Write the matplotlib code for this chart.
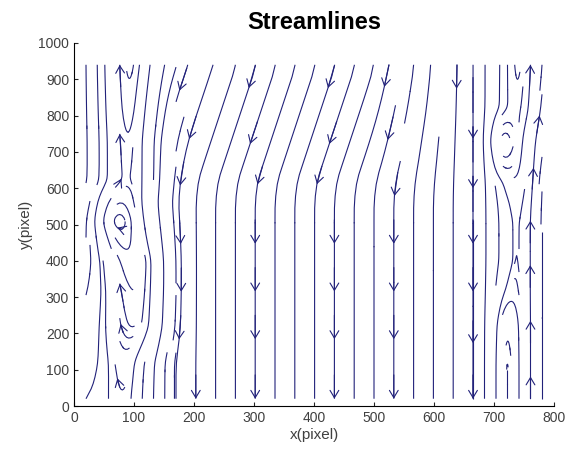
import numpy as np
import matplotlib
matplotlib.use("Agg")
import matplotlib.pyplot as plt
from matplotlib.patches import FancyArrowPatch

# ---- data: stream-function values (coarse grid) ----
x_nodes = [20, 45, 70, 95, 120, 150, 200, 300, 400, 500, 600, 650, 690, 715, 740, 760, 780]
y_nodes = [20, 120, 220, 320, 400, 460, 510, 560, 620, 730, 820, 940]

psi_y20  = [70, 66, 62, 60, 90, 140, 200, 300, 400, 500, 600, 650, 700, 760, 740, 720, 700]
psi_y120 = [75, 68, 60, 56, 85, 140, 200, 300, 400, 500, 600, 650, 700, 760, 740, 720, 700]
psi_y220 = [80, 68, 55, 45, 50, 120, 200, 300, 400, 500, 600, 650, 700, 755, 740, 720, 700]
psi_y320 = [85, 70, 52, 40, 45, 115, 200, 300, 400, 500, 600, 650, 700, 732, 738, 720, 700]
psi_y400 = [90, 68, 45, 34, 42, 115, 200, 300, 400, 500, 600, 650, 700, 722, 738, 720, 700]
psi_y460 = [92, 60, 30, 30, 60, 120, 200, 300, 400, 500, 600, 650, 700, 722, 738, 720, 700]
psi_y510 = [95, 50, 15, 30, 70, 125, 200, 300, 400, 500, 600, 650, 700, 722, 738, 720, 700]
psi_y560 = [98, 60, 30, 38, 75, 130, 200, 300, 400, 500, 600, 650, 700, 725, 740, 722, 700]
psi_y620 = [100, 80, 55, 46, 70, 125, 196, 296, 396, 496, 598, 650, 700, 735, 745, 725, 700]
psi_y730 = [100, 80, 55, 42, 72, 120, 174, 274, 374, 474, 590, 650, 700, 830, 745, 730, 705]
psi_y820 = [100, 78, 52, 38, 65, 110, 156, 256, 356, 456, 582, 650, 700, 742, 765, 740, 710]
psi_y940 = [100, 76, 50, 35, 55, 95, 132, 232, 332, 432, 573, 650, 700, 740, 770, 745, 715]
psi_rows = [psi_y20, psi_y120, psi_y220, psi_y320, psi_y400, psi_y460,
            psi_y510, psi_y560, psi_y620, psi_y730, psi_y820, psi_y940]

x_ticks = [0, 100, 200, 300, 400, 500, 600, 700, 800]
y_ticks = [0, 100, 200, 300, 400, 500, 600, 700, 800, 900, 1000]

# ---- build a fine, evenly spaced grid for streamplot ----
step = 5
xf = np.arange(x_nodes[0], x_nodes[-1] + 0.1, step)
yf = np.arange(y_nodes[0], y_nodes[-1] + 0.1, step)
coarse = np.array(psi_rows, dtype=float)
tmp = np.array([np.interp(xf, x_nodes, row) for row in coarse])
psi = np.array([np.interp(yf, y_nodes, tmp[:, j]) for j in range(len(xf))]).T


def box_smooth(a, k):
    pad = k // 2
    ker = np.ones(k) / k
    b = np.pad(a, ((0, 0), (pad, pad)), mode="edge")
    b = np.array([np.convolve(r, ker, mode="valid") for r in b])
    b = np.pad(b, ((pad, pad), (0, 0)), mode="edge")
    b = np.array([np.convolve(c, ker, mode="valid") for c in b.T]).T
    return b


for _ in range(2):
    psi = box_smooth(psi, 5)

dpsi_dy, dpsi_dx = np.gradient(psi, step, step)
U = dpsi_dy
V = -dpsi_dx

# ---- figure ----
plt.rcParams["font.family"] = ["Liberation Sans", "DejaVu Sans"]
fig = plt.figure(figsize=(5.72, 4.59), dpi=100)
ax = fig.add_axes([74 / 572, 53 / 459, 480 / 572, 363 / 459])

line_color = "#22227a"
panels = [(20, 172, (0.31, 1.0), 0.11), (172, 665, (0.56, 0.95), 0.1),
          (665, 780, (0.26, 1.0), 0.08)]
all_lines = []
for x0, x1, dens, mlen in panels:
    i0 = int(round((x0 - xf[0]) / step))
    i1 = int(round((x1 - xf[0]) / step)) + 1
    sp = ax.streamplot(xf[i0:i1], yf, U[:, i0:i1], V[:, i0:i1], density=dens,
                       color=line_color, linewidth=0.8, arrowstyle="-",
                       minlength=mlen)
    sp.arrows.set_visible(False)
    all_lines.extend(np.asarray(s) for s in sp.lines.get_segments() if len(s) > 3)

# arrowheads placed streamslice-style on a regular grid of anchor points
arrow_x = np.arange(75, 800, 115)
arrow_y = np.arange(66, 950, 140)
sx, sy = 480 / 800, 363 / 1000   # pixels per data unit
for axp in arrow_x:
    for ayp in arrow_y:
        best = None
        for L in all_lines:
            d = np.hypot((L[:, 0] - axp) * sx, (L[:, 1] - ayp) * sy)
            k = int(np.argmin(d))
            if best is None or d[k] < best[0]:
                best = (d[k], L, k)
        if best is None or best[0] > 14:
            continue
        _, L, k = best
        k = min(max(k, 1), len(L) - 2)
        p0, p1 = L[k - 1], L[k + 1]
        ax.add_patch(FancyArrowPatch(p0, p1,
                                     arrowstyle="->,head_length=0.5,head_width=0.3",
                                     mutation_scale=10.5, color=line_color, lw=0.8,
                                     shrinkA=0, shrinkB=0))

ax.set_xlim(0, 800)
ax.set_ylim(0, 1000)
ax.set_xticks(x_ticks)
ax.set_yticks(y_ticks)
for s in ["top", "right"]:
    ax.spines[s].set_visible(False)
for s in ["left", "bottom"]:
    ax.spines[s].set_linewidth(0.8)
ax.tick_params(direction="in", length=3, width=0.8, labelsize=10,
               colors="#262626", labelcolor="#404040")
ax.set_xlabel("x(pixel)", fontsize=11, color="#404040", labelpad=2)
ax.set_ylabel("y(pixel)", fontsize=11, color="#404040", labelpad=4)
ax.set_title("Streamlines", fontsize=17, fontweight="bold", pad=10)

fig.savefig("out.png", dpi=100)
